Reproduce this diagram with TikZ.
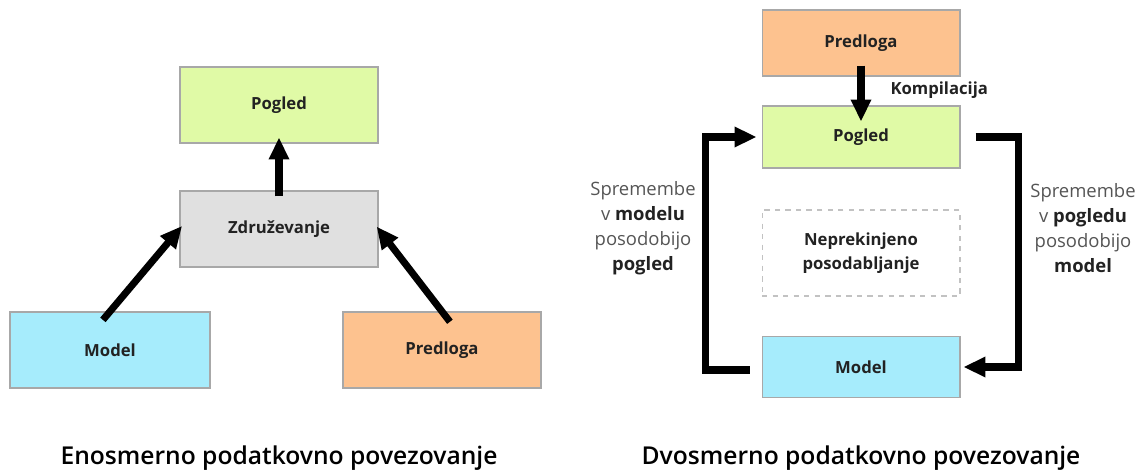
\documentclass[tikz,border=0pt]{standalone}
\usepackage{fontspec}
\setmainfont{Open Sans}
\newfontfamily\titlefont{Open Sans}[UprightFont={* Semibold}]
\usetikzlibrary{arrows.meta}
\definecolor{pogledgreen}{HTML}{E0FAA6}
\definecolor{joingray}{HTML}{E0E0E0}
\definecolor{modelcyan}{HTML}{A6ECFC}
\definecolor{predorange}{HTML}{FDC28F}
\definecolor{edgegray}{HTML}{A8A8A8}
\definecolor{notegray}{HTML}{555555}
\definecolor{labelblack}{HTML}{222222}
\begin{document}
\begin{tikzpicture}[x=0.02cm, y=-0.02cm,
    box/.style={draw=edgegray, line width=0.6pt, minimum width=3.96cm, inner sep=0pt,
                font=\fontsize{9.5}{12}\selectfont\bfseries, text=labelblack},
    conn/.style={line width=4pt, -{Triangle[length=12.5pt, width=11pt]}},
    note/.style={align=center, text=notegray, font=\fontsize{10.5}{14.2}\selectfont},
    caption/.style={font=\titlefont\fontsize{14}{16}\selectfont, text=black}]
    \useasboundingbox (0,0) rectangle (1136,473);
    \node[box, fill=pogledgreen, minimum height=1.52cm] (pL) at (279,105) {Pogled};
    \node[box, fill=joingray, minimum height=1.52cm] (zL) at (279,229) {Združevanje};
    \node[box, fill=modelcyan, minimum height=1.52cm, minimum width=4cm] (mL) at (110,350) {Model};
    \node[box, fill=predorange, minimum height=1.52cm] (tL) at (442,350) {Predloga};
    \draw[conn, shorten <=-0.12cm, shorten >=-0.12cm] (zL.north) -- (pL.south);
    \draw[conn, shorten <=-0.22cm, shorten >=-0.08cm] (mL.north) -- (zL.west);
    \draw[conn, shorten <=-0.26cm, shorten >=-0.06cm] (tL.north) -- (zL.east);
    \node[caption] (cL) at (279,458) {Enosmerno podatkovno povezovanje};
    \node[box, fill=predorange, minimum height=1.32cm] (tR) at (861,43) {Predloga};
    \node[box, fill=pogledgreen, minimum height=1.24cm] (pR) at (861,137) {Pogled};
    \node[box, draw=edgegray!70, dash pattern=on 3pt off 3pt, minimum height=1.72cm,
          align=center, font=\fontsize{9.5}{14}\selectfont\bfseries] (uR) at (861,253)
          {Neprekinjeno\\posodabljanje};
    \node[box, fill=modelcyan, minimum height=1.22cm] (mR) at (861,367) {Model};
    \draw[conn, shorten <=-0.22cm, shorten >=-0.32cm] (tR.south) -- (pR.north);
    \node[box, draw=none, minimum width=0pt, anchor=west] (kR) at (890,90) {Kompilacija};
    \draw[conn] ([xshift=-0.24cm, yshift=-0.06cm]mR.west) -- ++(-0.88cm,0) |- ([xshift=-0.1cm]pR.west);
    \draw[conn] ([xshift=0.3cm]pR.east) -- ++(0.86cm,0) |- ([xshift=0.06cm]mR.east);
    \node[note] (sL) at (643,228) {Spremembe\\v \textbf{\color{labelblack}modelu}\\posodobijo\\\textbf{\color{labelblack}pogled}};
    \node[note] (sR) at (1083,228) {Spremembe\\v \textbf{\color{labelblack}pogledu}\\posodobijo\\\textbf{\color{labelblack}model}};
    \node[caption] (cR) at (861,458) {Dvosmerno podatkovno povezovanje};
\end{tikzpicture}
\end{document}
